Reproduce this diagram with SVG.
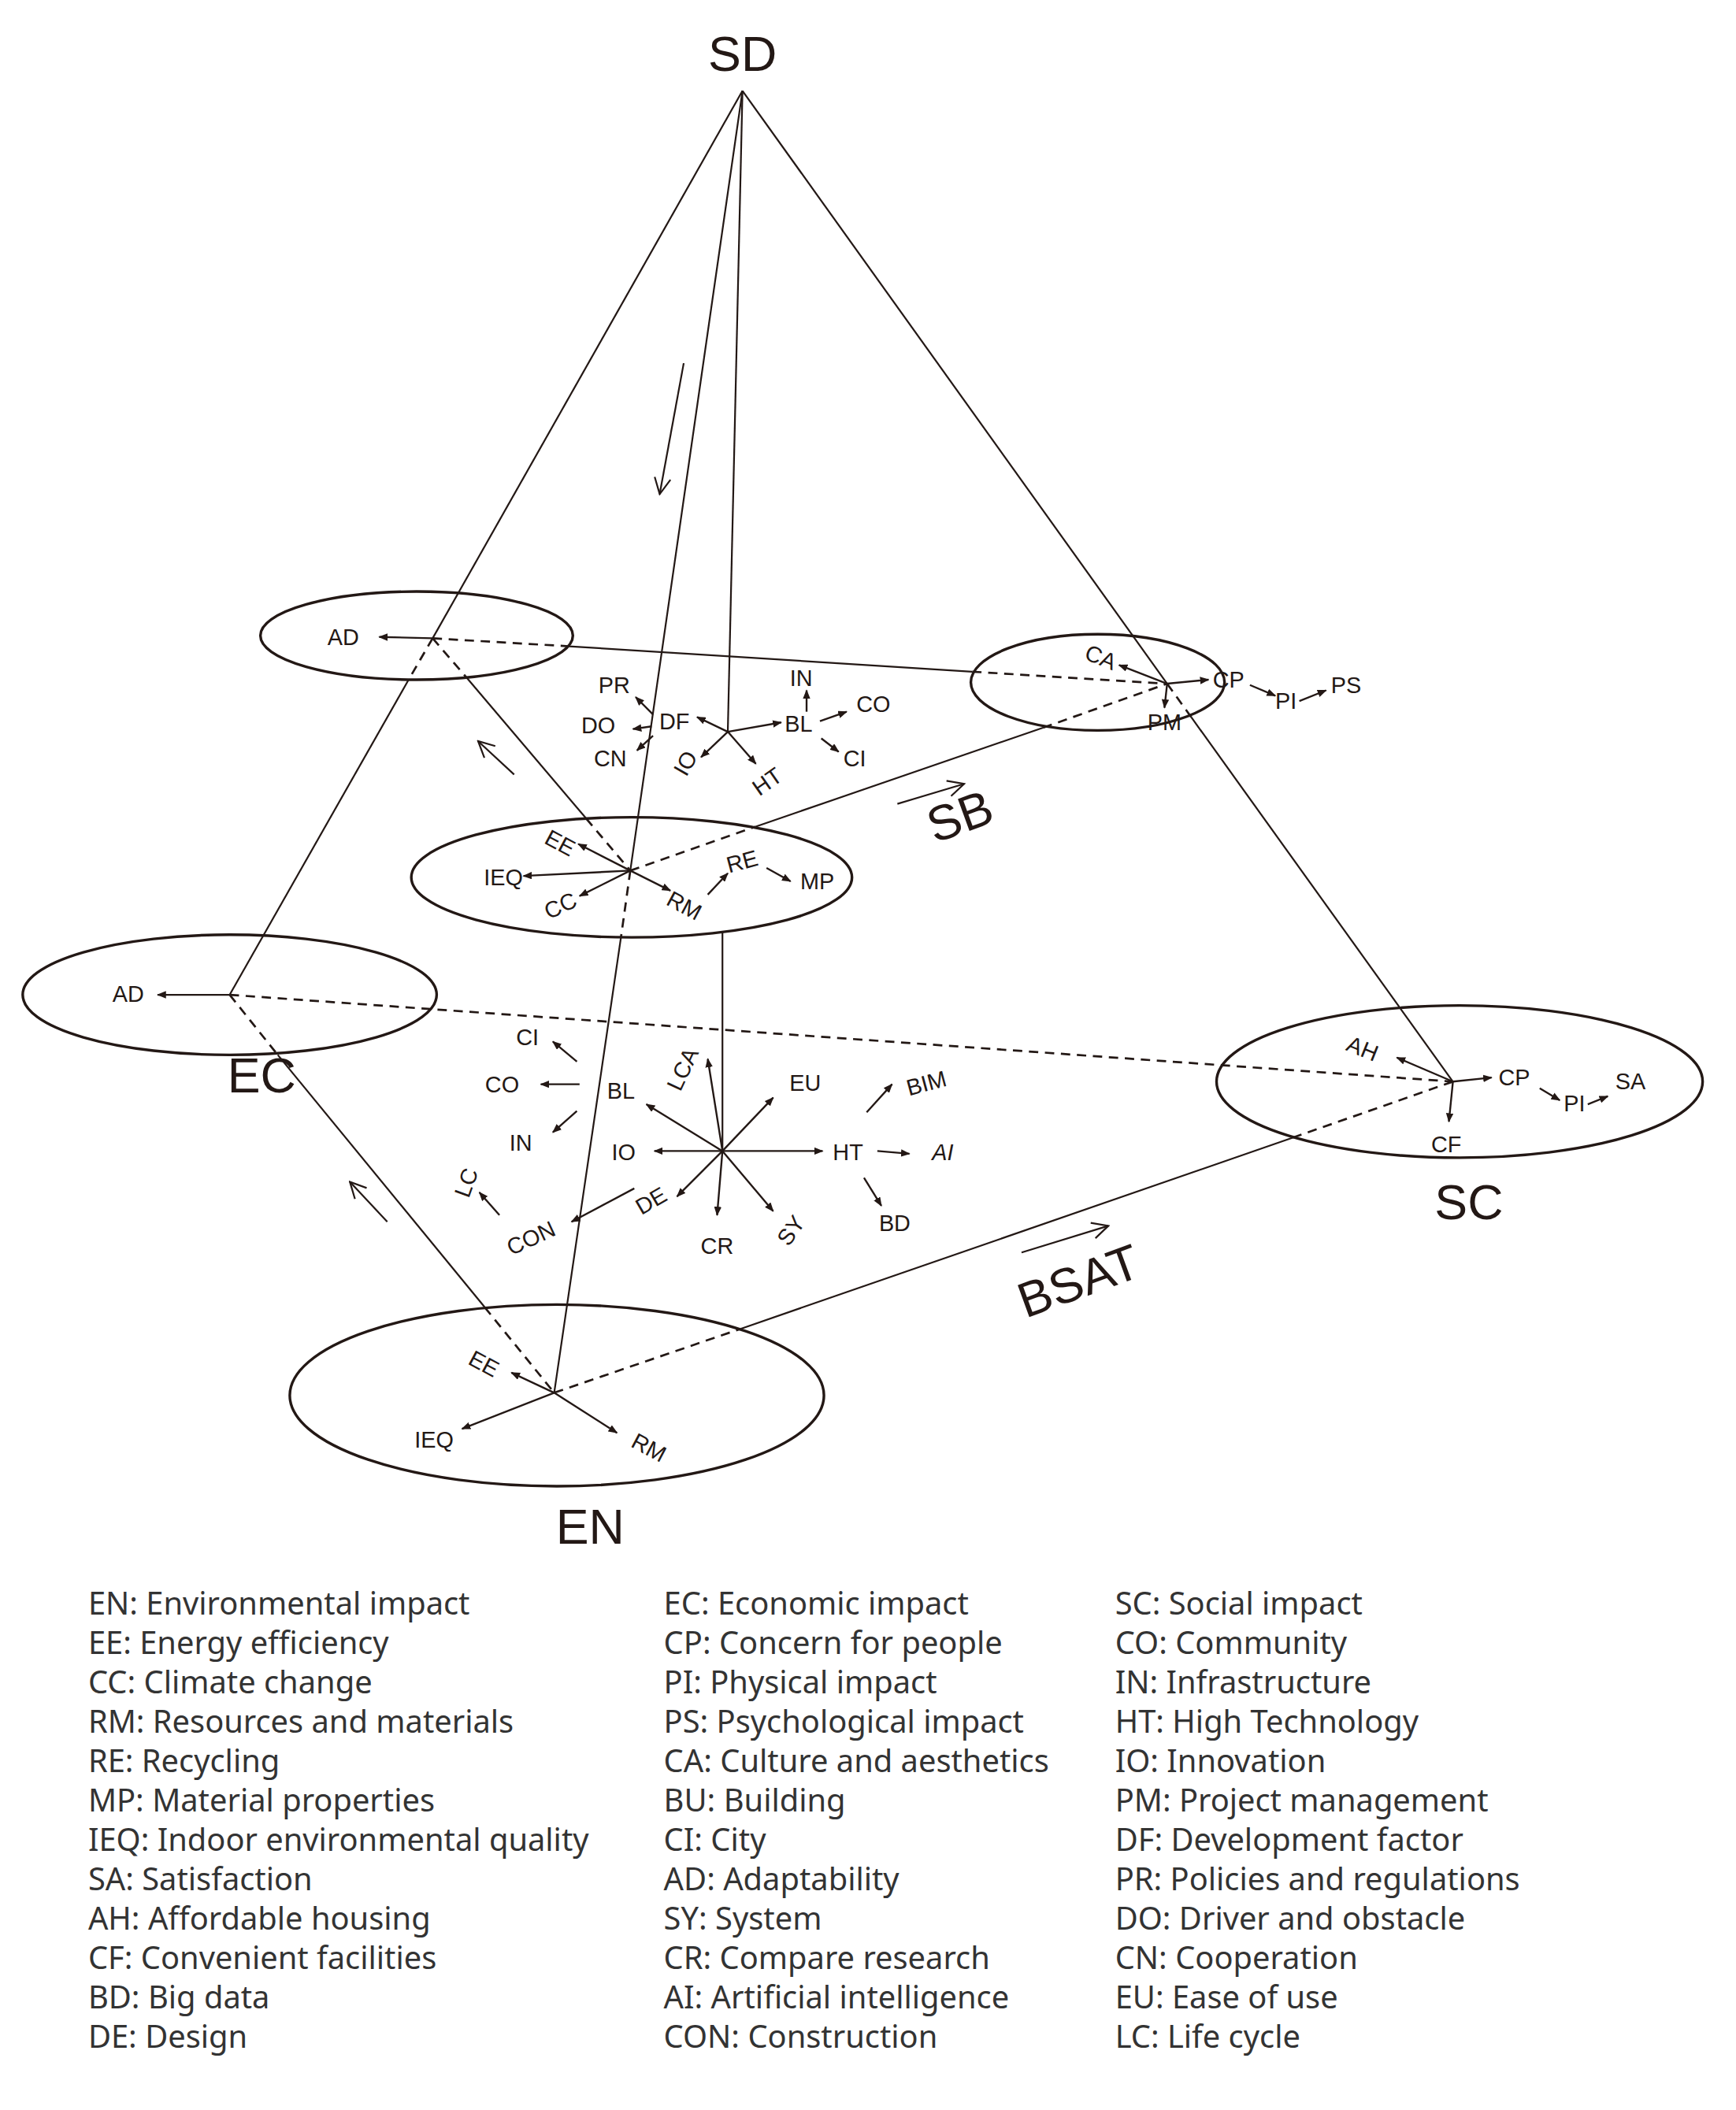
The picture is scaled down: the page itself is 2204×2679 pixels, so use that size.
<svg xmlns="http://www.w3.org/2000/svg" width="2204" height="2679" viewBox="0 0 2204 2679">
<style>
.l{stroke:#231815;stroke-width:1.3;fill:none}
.d{stroke:#231815;stroke-width:1.6;fill:none;stroke-dasharray:7 5}
.e{stroke:#231815;stroke-width:2;fill:none}
.a{stroke:#231815;stroke-width:1.4;fill:none;marker-end:url(#ah)}
.o{stroke:#231815;stroke-width:1.3;fill:none;marker-end:url(#oh)}
.t{font-family:"Liberation Sans Narrow","Liberation Sans",Arial,sans-serif;font-size:17px;fill:#231815;text-anchor:middle}
.b{font-family:"Liberation Sans",Arial,sans-serif;font-size:37px;fill:#231815;text-anchor:middle}
.g{font-family:"Noto Sans","Liberation Sans",sans-serif;font-size:23.5px;fill:#333}
</style>
<defs>
<marker id="ah" markerUnits="userSpaceOnUse" viewBox="0 0 10 8" refX="9" refY="4" markerWidth="7" markerHeight="5.6" orient="auto"><path d="M0,0 L10,4 L0,8 Z" fill="#231815"/></marker>
<marker id="oh" markerUnits="userSpaceOnUse" viewBox="0 0 14 14" refX="13" refY="7" markerWidth="14" markerHeight="14" orient="auto"><polyline points="1,1 13,7 1,13" fill="none" stroke="#231815" stroke-width="1.3"/></marker>
</defs>
<rect width="2204" height="2679" fill="#fff"/>
<g transform="scale(1.6954)">
<g id="connectors">
<line class="l" x1="556" y1="68" x2="324" y2="478"/>
<line class="d" x1="324" y1="478" x2="306" y2="509"/>
<line class="l" x1="306" y1="509" x2="172" y2="745"/>
<line class="d" x1="324" y1="478" x2="426" y2="484"/>
<line class="l" x1="426" y1="484" x2="728" y2="503"/>
<line class="d" x1="728" y1="503" x2="874" y2="512"/>
<line class="d" x1="324" y1="478" x2="349" y2="507"/>
<line class="l" x1="349" y1="507" x2="439" y2="613"/>
<line class="d" x1="439" y1="613" x2="472" y2="652"/>
<line class="l" x1="556" y1="68" x2="472" y2="652"/>
<line class="d" x1="472" y1="652" x2="465" y2="702"/>
<line class="l" x1="465" y1="702" x2="415" y2="1043"/>
<line class="d" x1="472" y1="652" x2="566" y2="619"/>
<line class="l" x1="566" y1="619" x2="781" y2="545"/>
<line class="d" x1="781" y1="545" x2="874" y2="512"/>
<line class="l" x1="556" y1="68" x2="545" y2="548"/>
<line class="l" x1="541" y1="698" x2="541" y2="862"/>
<line class="l" x1="556" y1="68" x2="874" y2="512"/>
<line class="d" x1="874" y1="512" x2="892" y2="537"/>
<line class="l" x1="892" y1="537" x2="1088" y2="810"/>
<line class="d" x1="172" y1="745" x2="1088" y2="810"/>
<line class="d" x1="172" y1="745" x2="208" y2="790"/>
<line class="l" x1="208" y1="790" x2="363" y2="979"/>
<line class="d" x1="363" y1="979" x2="415" y2="1043"/>
<line class="d" x1="415" y1="1043" x2="555" y2="995"/>
<line class="l" x1="555" y1="995" x2="968" y2="852"/>
<line class="d" x1="968" y1="852" x2="1088" y2="810"/>
<line class="o" x1="512" y1="272" x2="494" y2="370"/>
<line class="o" x1="385" y1="580" x2="358" y2="555"/>
<line class="o" x1="290" y1="915" x2="262" y2="885"/>
<line class="o" x1="672" y1="602" x2="722" y2="587"/>
<line class="o" x1="765" y1="938" x2="830" y2="918"/>
</g>
<text class="b" x="556" y="53">SD</text>
<text class="b" x="719" y="624" transform="rotate(-20 719 612)">SB</text>
<text class="b" x="808" y="972" transform="rotate(-20 808 960)">BSAT</text>
<g id="node-AD-top">
<ellipse class="e" cx="312" cy="476" rx="117" ry="33"/>
<line class="a" x1="324" y1="478" x2="284" y2="477"/>
<text class="t" x="257" y="483">AD</text>
</g>
<g id="node-CA">
<ellipse class="e" cx="822" cy="511" rx="95" ry="36"/>
<line class="a" x1="874" y1="512" x2="838" y2="498"/>
<text class="t" x="824" y="498" transform="rotate(22 824 493)">CA</text>
<line class="a" x1="874" y1="512" x2="905" y2="509"/>
<text class="t" x="920" y="515">CP</text>
<line class="a" x1="936" y1="513" x2="955" y2="521"/>
<text class="t" x="963" y="531">PI</text>
<line class="a" x1="973" y1="525" x2="993" y2="517"/>
<text class="t" x="1008" y="519">PS</text>
<line class="a" x1="874" y1="512" x2="872" y2="530"/>
<text class="t" x="872" y="547">PM</text>
</g>
<g id="node-SB">
<ellipse class="e" cx="473" cy="657" rx="165" ry="45"/>
<line class="a" x1="472" y1="652" x2="433" y2="632"/>
<text class="t" x="419" y="637" transform="rotate(28 419 632)">EE</text>
<line class="a" x1="472" y1="652" x2="392" y2="656"/>
<text class="t" x="377" y="663">IEQ</text>
<line class="a" x1="472" y1="652" x2="434" y2="671"/>
<text class="t" x="420" y="684" transform="rotate(-25 420 679)">CC</text>
<line class="a" x1="472" y1="652" x2="502" y2="667"/>
<text class="t" x="512" y="684" transform="rotate(28 512 679)">RM</text>
<line class="a" x1="530" y1="670" x2="545" y2="654"/>
<text class="t" x="556" y="651" transform="rotate(-15 556 646)">RE</text>
<line class="a" x1="574" y1="650" x2="592" y2="660"/>
<text class="t" x="612" y="666">MP</text>
</g>
<g id="node-DF">
<line class="a" x1="545" y1="548" x2="522" y2="537"/>
<text class="t" x="505" y="546">DF</text>
<line class="a" x1="545" y1="548" x2="585" y2="541"/>
<text class="t" x="598" y="548">BL</text>
<line class="a" x1="545" y1="548" x2="525" y2="567"/>
<text class="t" x="514" y="577" transform="rotate(-60 514 572)">IO</text>
<line class="a" x1="545" y1="548" x2="566" y2="572"/>
<text class="t" x="575" y="591" transform="rotate(-35 575 586)">HT</text>
<line class="a" x1="489" y1="535" x2="476" y2="522"/>
<text class="t" x="460" y="519">PR</text>
<line class="a" x1="488" y1="544" x2="474" y2="546"/>
<text class="t" x="448" y="549">DO</text>
<line class="a" x1="489" y1="551" x2="477" y2="562"/>
<text class="t" x="457" y="574">CN</text>
<line class="a" x1="604" y1="533" x2="604" y2="517"/>
<text class="t" x="600" y="514">IN</text>
<line class="a" x1="614" y1="540" x2="634" y2="533"/>
<text class="t" x="654" y="533">CO</text>
<line class="a" x1="615" y1="553" x2="628" y2="563"/>
<text class="t" x="640" y="574">CI</text>
</g>
<g id="node-EC">
<ellipse class="e" cx="172" cy="745" rx="155" ry="45"/>
<line class="a" x1="172" y1="745" x2="118" y2="745"/>
<text class="t" x="96" y="750">AD</text>
<text class="b" x="196" y="818">EC</text>
</g>
<g id="node-center">
<line class="a" x1="541" y1="862" x2="484" y2="827"/>
<text class="t" x="465" y="823">BL</text>
<line class="a" x1="541" y1="862" x2="530" y2="793"/>
<text class="t" x="512" y="806" transform="rotate(-65 512 801)">LCA</text>
<line class="a" x1="541" y1="862" x2="579" y2="822"/>
<text class="t" x="603" y="817">EU</text>
<line class="a" x1="541" y1="862" x2="490" y2="862"/>
<text class="t" x="467" y="869">IO</text>
<line class="a" x1="541" y1="862" x2="616" y2="862"/>
<text class="t" x="635" y="869">HT</text>
<line class="a" x1="541" y1="862" x2="507" y2="896"/>
<text class="t" x="488" y="905" transform="rotate(-30 488 900)">DE</text>
<line class="a" x1="541" y1="862" x2="537" y2="910"/>
<text class="t" x="537" y="939">CR</text>
<line class="a" x1="541" y1="862" x2="579" y2="907"/>
<text class="t" x="593" y="927" transform="rotate(-55 593 922)">SY</text>
<line class="a" x1="432" y1="795" x2="414" y2="780"/>
<text class="t" x="395" y="783">CI</text>
<line class="a" x1="434" y1="812" x2="405" y2="812"/>
<text class="t" x="376" y="818">CO</text>
<line class="a" x1="432" y1="832" x2="414" y2="848"/>
<text class="t" x="390" y="862">IN</text>
<line class="a" x1="475" y1="890" x2="428" y2="915"/>
<text class="t" x="398" y="933" transform="rotate(-25 398 928)">CON</text>
<line class="a" x1="374" y1="910" x2="359" y2="893"/>
<text class="t" x="350" y="891" transform="rotate(-70 350 886)">LC</text>
<line class="a" x1="649" y1="833" x2="668" y2="812"/>
<text class="t" x="694" y="817" transform="rotate(-15 694 812)">BIM</text>
<line class="a" x1="657" y1="862" x2="681" y2="864"/>
<text class="t" x="706" y="869" font-style="italic">AI</text>
<line class="a" x1="647" y1="882" x2="660" y2="903"/>
<text class="t" x="670" y="922">BD</text>
</g>
<g id="node-SC">
<ellipse class="e" cx="1093" cy="810" rx="182" ry="57"/>
<line class="a" x1="1088" y1="810" x2="1046" y2="792"/>
<text class="t" x="1020" y="791" transform="rotate(22 1020 786)">AH</text>
<line class="a" x1="1088" y1="810" x2="1117" y2="807"/>
<text class="t" x="1134" y="813">CP</text>
<line class="a" x1="1153" y1="815" x2="1168" y2="824"/>
<text class="t" x="1179" y="832">PI</text>
<line class="a" x1="1189" y1="827" x2="1204" y2="821"/>
<text class="t" x="1221" y="816">SA</text>
<line class="a" x1="1088" y1="810" x2="1085" y2="840"/>
<text class="t" x="1083" y="863">CF</text>
<text class="b" x="1100" y="913">SC</text>
</g>
<g id="node-EN">
<ellipse class="e" cx="417" cy="1045" rx="200" ry="68"/>
<line class="a" x1="415" y1="1043" x2="383" y2="1028"/>
<text class="t" x="362" y="1027" transform="rotate(28 362 1022)">EE</text>
<line class="a" x1="415" y1="1043" x2="346" y2="1070"/>
<text class="t" x="325" y="1084">IEQ</text>
<line class="a" x1="415" y1="1043" x2="462" y2="1073"/>
<text class="t" x="486" y="1090" transform="rotate(28 486 1084)">RM</text>
<text class="b" x="442" y="1156">EN</text>
</g>
<g id="legend">
<text class="g" x="66" y="1209">EN: Environmental impact</text>
<text class="g" x="66" y="1238.5">EE: Energy efficiency</text>
<text class="g" x="66" y="1268">CC: Climate change</text>
<text class="g" x="66" y="1297.5">RM: Resources and materials</text>
<text class="g" x="66" y="1327">RE: Recycling</text>
<text class="g" x="66" y="1356.5">MP: Material properties</text>
<text class="g" x="66" y="1386">IEQ: Indoor environmental quality</text>
<text class="g" x="66" y="1415.5">SA: Satisfaction</text>
<text class="g" x="66" y="1445">AH: Affordable housing</text>
<text class="g" x="66" y="1474.5">CF: Convenient facilities</text>
<text class="g" x="66" y="1504">BD: Big data</text>
<text class="g" x="66" y="1533.5">DE: Design</text>
<text class="g" x="497" y="1209">EC: Economic impact</text>
<text class="g" x="497" y="1238.5">CP: Concern for people</text>
<text class="g" x="497" y="1268">PI: Physical impact</text>
<text class="g" x="497" y="1297.5">PS: Psychological impact</text>
<text class="g" x="497" y="1327">CA: Culture and aesthetics</text>
<text class="g" x="497" y="1356.5">BU: Building</text>
<text class="g" x="497" y="1386">CI: City</text>
<text class="g" x="497" y="1415.5">AD: Adaptability</text>
<text class="g" x="497" y="1445">SY: System</text>
<text class="g" x="497" y="1474.5">CR: Compare research</text>
<text class="g" x="497" y="1504">AI: Artificial intelligence</text>
<text class="g" x="497" y="1533.5">CON: Construction</text>
<text class="g" x="835" y="1209">SC: Social impact</text>
<text class="g" x="835" y="1238.5">CO: Community</text>
<text class="g" x="835" y="1268">IN: Infrastructure</text>
<text class="g" x="835" y="1297.5">HT: High Technology</text>
<text class="g" x="835" y="1327">IO: Innovation</text>
<text class="g" x="835" y="1356.5">PM: Project management</text>
<text class="g" x="835" y="1386">DF: Development factor</text>
<text class="g" x="835" y="1415.5">PR: Policies and regulations</text>
<text class="g" x="835" y="1445">DO: Driver and obstacle</text>
<text class="g" x="835" y="1474.5">CN: Cooperation</text>
<text class="g" x="835" y="1504">EU: Ease of use</text>
<text class="g" x="835" y="1533.5">LC: Life cycle</text>
</g>
</g>
</svg>
